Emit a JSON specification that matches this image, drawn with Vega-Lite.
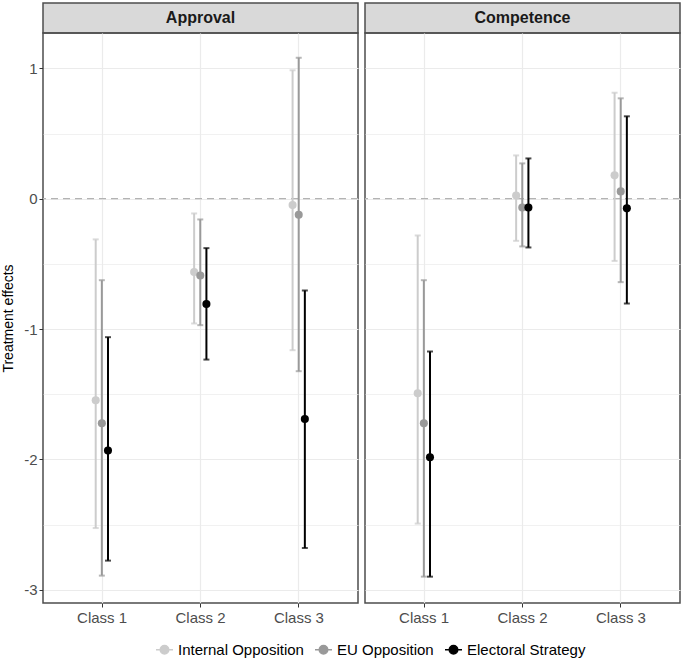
{
  "$schema": "https://vega.github.io/schema/vega-lite/v6.json",
  "padding": {"left": 0, "top": 2, "right": 3, "bottom": 3},
  "background": "white",
  "config": {
    "font": "Liberation Sans",
    "axis": {"domain": false, "tickColor": "#333333", "tickSize": 4, "labelColor": "#4d4d4d", "labelFontSize": 15, "gridColor": "#ebebeb", "titleFontWeight": "normal", "titleColor": "#000000"},
    "legend": {"orient": "none", "legendX": 112, "legendY": 637, "direction": "horizontal", "title": null, "labelFontSize": 15, "labelColor": "#000000", "columnPadding": 8, "labelOffset": 4,
               "symbolType": "M-1,0H1M0.5,0A0.5,0.5,0,1,1,-0.5,0A0.5,0.5,0,1,1,0.5,0", "symbolSize": 289, "symbolStrokeWidth": 1.5, "symbolOpacity": 1}
  },
  "datasets": {
    "effects": [
      {"panel": "Approval", "cls": "Class 1", "series": "Internal Opposition", "est": -1.546, "lo": -2.526, "hi": -0.312},
      {"panel": "Approval", "cls": "Class 1", "series": "EU Opposition", "est": -1.722, "lo": -2.891, "hi": -0.625},
      {"panel": "Approval", "cls": "Class 1", "series": "Electoral Strategy", "est": -1.932, "lo": -2.776, "hi": -1.062},
      {"panel": "Approval", "cls": "Class 2", "series": "Internal Opposition", "est": -0.563, "lo": -0.957, "hi": -0.113},
      {"panel": "Approval", "cls": "Class 2", "series": "EU Opposition", "est": -0.589, "lo": -0.970, "hi": -0.159},
      {"panel": "Approval", "cls": "Class 2", "series": "Electoral Strategy", "est": -0.807, "lo": -1.234, "hi": -0.379},
      {"panel": "Approval", "cls": "Class 3", "series": "Internal Opposition", "est": -0.049, "lo": -1.162, "hi": 0.985},
      {"panel": "Approval", "cls": "Class 3", "series": "EU Opposition", "est": -0.123, "lo": -1.323, "hi": 1.081},
      {"panel": "Approval", "cls": "Class 3", "series": "Electoral Strategy", "est": -1.689, "lo": -2.679, "hi": -0.704},
      {"panel": "Competence", "cls": "Class 1", "series": "Internal Opposition", "est": -1.492, "lo": -2.492, "hi": -0.282},
      {"panel": "Competence", "cls": "Class 1", "series": "EU Opposition", "est": -1.722, "lo": -2.899, "hi": -0.625},
      {"panel": "Competence", "cls": "Class 1", "series": "Electoral Strategy", "est": -1.983, "lo": -2.899, "hi": -1.172},
      {"panel": "Competence", "cls": "Class 2", "series": "Internal Opposition", "est": 0.025, "lo": -0.323, "hi": 0.332},
      {"panel": "Competence", "cls": "Class 2", "series": "EU Opposition", "est": -0.067, "lo": -0.366, "hi": 0.271},
      {"panel": "Competence", "cls": "Class 2", "series": "Electoral Strategy", "est": -0.067, "lo": -0.374, "hi": 0.309},
      {"panel": "Competence", "cls": "Class 3", "series": "Internal Opposition", "est": 0.179, "lo": -0.477, "hi": 0.813},
      {"panel": "Competence", "cls": "Class 3", "series": "EU Opposition", "est": 0.056, "lo": -0.640, "hi": 0.770},
      {"panel": "Competence", "cls": "Class 3", "series": "Electoral Strategy", "est": -0.074, "lo": -0.804, "hi": 0.632}
    ]
  },
  "columns": 2,
  "spacing": {"row": 0, "column": 7},
  "bounds": "flush",
  "resolve": {"scale": {"color": "shared"}, "legend": {"color": "shared"}},
  "concat": [
    {
      "width": 315, "height": 30,
      "data": {"values": [{"t": "Approval"}]},
      "view": {"fill": "#d9d9d9", "stroke": "#4d4d4d", "strokeWidth": 1.5},
      "mark": {"type": "text", "fontWeight": "bold", "fontSize": 16, "color": "#1a1a1a", "baseline": "middle"},
      "encoding": {"text": {"field": "t"}}
    },
    {
      "width": 315, "height": 30,
      "data": {"values": [{"t": "Competence"}]},
      "view": {"fill": "#d9d9d9", "stroke": "#4d4d4d", "strokeWidth": 1.5},
      "mark": {"type": "text", "fontWeight": "bold", "fontSize": 16, "color": "#1a1a1a", "baseline": "middle"},
      "encoding": {"text": {"field": "t"}}
    },
    {
      "width": 315, "height": 570,
      "view": {"stroke": "#4d4d4d", "strokeWidth": 1.5},
      "layer": [
        {
          "data": {"values": [{"ref": 0}]},
          "mark": {"type": "rule", "strokeDash": [7, 5], "color": "#b3b3b3", "strokeWidth": 1.3},
          "encoding": {
            "y": {"field": "ref", "type": "quantitative",
                  "scale": {"domain": [-3.101, 1.271], "nice": false, "zero": false},
                  "title": "Treatment effects",
                  "axis": {"values": [-3, -2.5, -2, -1.5, -1, -0.5, 0, 0.5, 1],
                           "labelExpr": "datum.value % 1 === 0 ? '' + datum.value : ''",
                           "tickOpacity": {"condition": {"test": "datum.value % 1 !== 0", "value": 0}, "value": 1},
                           "gridWidth": {"condition": {"test": "datum.value % 1 !== 0", "value": 0.7}, "value": 1.2},
                           "titleFontSize": 14, "titlePadding": 8, "labelPadding": 2}}
          }
        },
        {
          "data": {"name": "effects"},
          "transform": [{"filter": "datum.panel === 'Approval'"}],
          "encoding": {
            "x": {"field": "cls", "type": "nominal", "title": null,
                  "scale": {"type": "band", "domain": ["Class 1", "Class 2", "Class 3"], "paddingInner": 0, "paddingOuter": 0.1},
                  "axis": {"grid": true, "labelAngle": 0, "labelPadding": 3, "gridWidth": 1.2}},
            "xOffset": {"field": "series", "type": "nominal",
                  "scale": {"type": "band", "domain": ["Internal Opposition", "EU Opposition", "Electoral Strategy"], "paddingInner": 0, "paddingOuter": 0, "range": [39.8, 58.2]}},
            "color": {"field": "series", "type": "nominal",
                  "scale": {"domain": ["Internal Opposition", "EU Opposition", "Electoral Strategy"], "range": ["#cccccc", "#999999", "#000000"]}}
          },
          "layer": [
            {
              "mark": {"type": "rule", "strokeWidth": 2},
              "encoding": {"y": {"field": "lo", "type": "quantitative", "title": "Treatment effects"}, "y2": {"field": "hi"}}
            },
            {
              "mark": {"type": "tick", "size": 6, "thickness": 2, "orient": "horizontal"},
              "encoding": {"y": {"field": "lo", "type": "quantitative", "title": "Treatment effects"}}
            },
            {
              "mark": {"type": "tick", "size": 6, "thickness": 2, "orient": "horizontal"},
              "encoding": {"y": {"field": "hi", "type": "quantitative", "title": "Treatment effects"}}
            },
            {
              "mark": {"type": "point", "filled": true, "size": 65, "opacity": 1},
              "encoding": {"y": {"field": "est", "type": "quantitative", "title": "Treatment effects"}}
            }
          ]
        }
      ]
    },
    {
      "width": 315, "height": 570,
      "view": {"stroke": "#4d4d4d", "strokeWidth": 1.5},
      "layer": [
        {
          "data": {"values": [{"ref": 0}]},
          "mark": {"type": "rule", "strokeDash": [7, 5], "color": "#b3b3b3", "strokeWidth": 1.3},
          "encoding": {
            "y": {"field": "ref", "type": "quantitative",
                  "scale": {"domain": [-3.101, 1.271], "nice": false, "zero": false},
                  "title": null,
                  "axis": {"values": [-3, -2.5, -2, -1.5, -1, -0.5, 0, 0.5, 1],
                           "labels": false, "ticks": false, "title": null,
                           "gridWidth": {"condition": {"test": "datum.value % 1 !== 0", "value": 0.7}, "value": 1.2}}}
          }
        },
        {
          "data": {"name": "effects"},
          "transform": [{"filter": "datum.panel === 'Competence'"}],
          "encoding": {
            "x": {"field": "cls", "type": "nominal", "title": null,
                  "scale": {"type": "band", "domain": ["Class 1", "Class 2", "Class 3"], "paddingInner": 0, "paddingOuter": 0.1},
                  "axis": {"grid": true, "labelAngle": 0, "labelPadding": 3, "gridWidth": 1.2}},
            "xOffset": {"field": "series", "type": "nominal",
                  "scale": {"type": "band", "domain": ["Internal Opposition", "EU Opposition", "Electoral Strategy"], "paddingInner": 0, "paddingOuter": 0, "range": [39.8, 58.2]}},
            "color": {"field": "series", "type": "nominal",
                  "scale": {"domain": ["Internal Opposition", "EU Opposition", "Electoral Strategy"], "range": ["#cccccc", "#999999", "#000000"]}}
          },
          "layer": [
            {
              "mark": {"type": "rule", "strokeWidth": 2},
              "encoding": {"y": {"field": "lo", "type": "quantitative", "title": null}, "y2": {"field": "hi"}}
            },
            {
              "mark": {"type": "tick", "size": 6, "thickness": 2, "orient": "horizontal"},
              "encoding": {"y": {"field": "lo", "type": "quantitative", "title": null}}
            },
            {
              "mark": {"type": "tick", "size": 6, "thickness": 2, "orient": "horizontal"},
              "encoding": {"y": {"field": "hi", "type": "quantitative", "title": null}}
            },
            {
              "mark": {"type": "point", "filled": true, "size": 65, "opacity": 1},
              "encoding": {"y": {"field": "est", "type": "quantitative", "title": null}}
            }
          ]
        }
      ]
    }
  ]
}
